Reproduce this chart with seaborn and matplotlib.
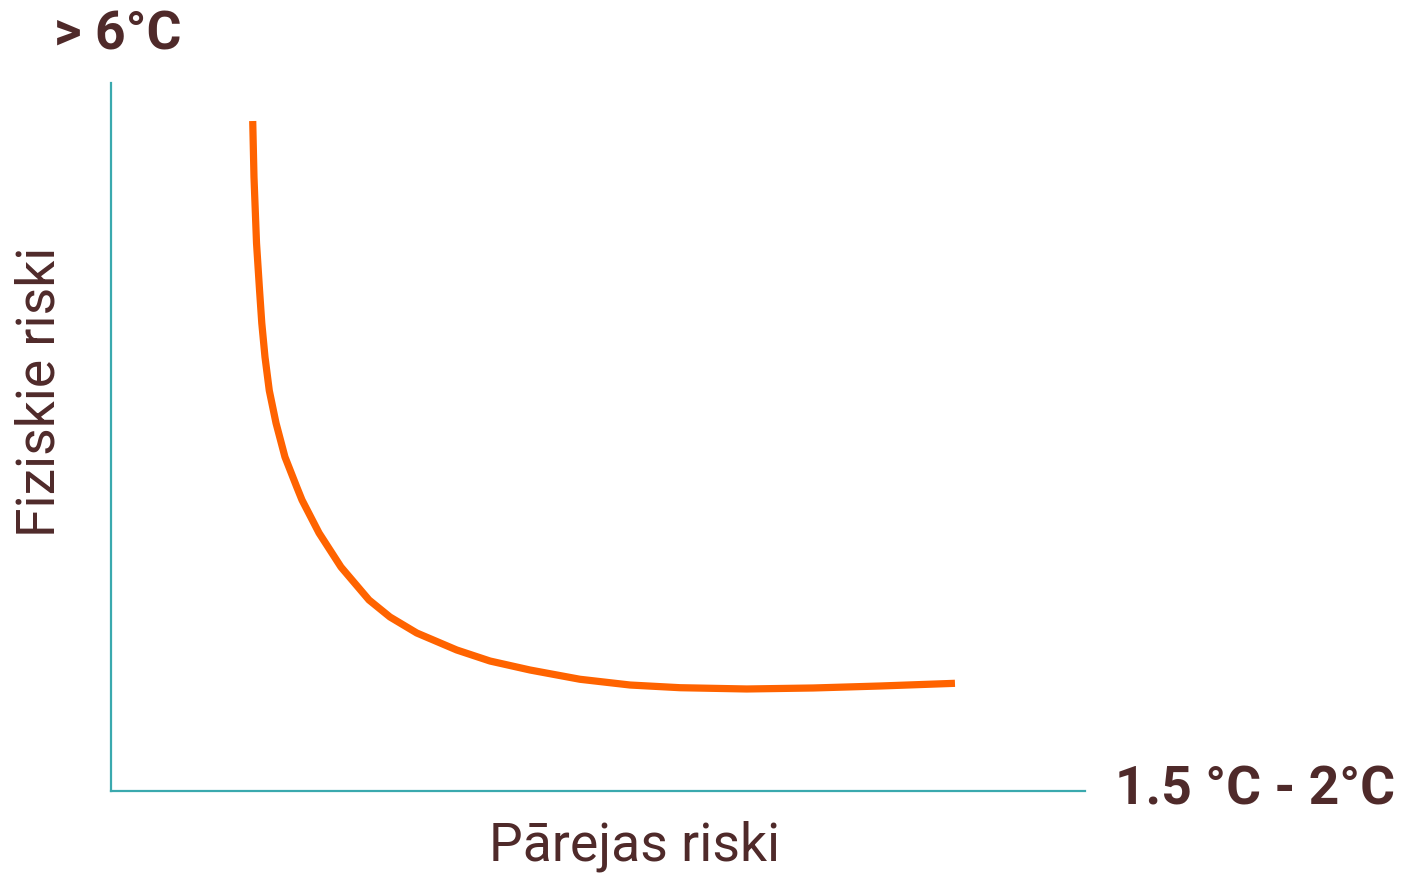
import matplotlib
matplotlib.use("Agg")
import matplotlib.pyplot as plt
import seaborn as sns
import pandas as pd

# Data (arbitrary 0-100 units)
transition_risk = [14.55, 14.68, 14.94, 15.25, 15.48, 15.81, 16.25, 16.94, 17.86, 19.07,
                   19.61, 21.36, 23.61, 26.49, 28.64, 31.39, 35.49, 38.91, 43.02, 48.15,
                   53.29, 58.42, 65.27, 72.10, 78.95, 86.65]
physical_risk = [94.63, 86.72, 77.40, 70.76, 66.10, 61.30, 56.57, 51.98, 47.18, 42.94,
                 41.10, 36.44, 31.64, 26.98, 24.58, 22.32, 19.92, 18.36, 17.09, 15.78,
                 14.97, 14.59, 14.41, 14.55, 14.83, 15.21]
x_label = "Pārejas riski"
y_label = "Fiziskie riski"
y_end_label = "> 6°C"
x_end_label = "1.5 °C - 2°C"

sns.set_theme(style="white")
plt.rcParams['font.family'] = ['Roboto', 'DejaVu Sans']

TEXT = "#4F2A2A"
SPINE = "#3AA9AE"
CURVE = "#FF6300"

fig = plt.figure(figsize=(14.04, 8.75), dpi=100)
ax = fig.add_axes([111/1404, 1 - 791/875, 974/1404, 708/875])

df = pd.DataFrame({"x": transition_risk, "y": physical_risk})
sns.lineplot(data=df, x="x", y="y", sort=False, color=CURVE, linewidth=5.2,
             solid_capstyle="butt", solid_joinstyle="round", ax=ax)

ax.set_xlim(0, 100)
ax.set_ylim(0, 100)
ax.set_xticks([])
ax.set_yticks([])
ax.set_xlabel("")
ax.set_ylabel("")
for s in ["top", "right"]:
    ax.spines[s].set_visible(False)
for s in ["left", "bottom"]:
    ax.spines[s].set_color(SPINE)
    ax.spines[s].set_linewidth(1.6)

fig.text(118/1404, 1 - 35/875, y_end_label, ha="center", va="center",
         fontsize=38.5, fontweight="bold", color=TEXT)
fig.text(1255/1404, 1 - 790/875, x_end_label, ha="center", va="center",
         fontsize=38.5, fontweight="bold", color=TEXT)
fig.text(40/1404, 1 - 392/875, y_label, ha="center", va="center", rotation=90,
         fontsize=38.5, color=TEXT)
fig.text(635/1404, 1 - 846/875, x_label, ha="center", va="center",
         fontsize=38.5, color=TEXT)

fig.savefig("out.png", dpi=100, facecolor="white")
